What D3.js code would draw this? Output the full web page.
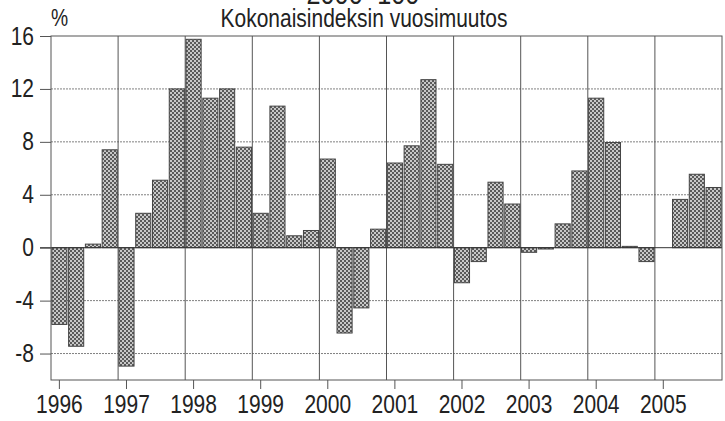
<!DOCTYPE html>
<html>
<head>
<meta charset="utf-8">
<script src="https://cdn.jsdelivr.net/npm/d3@7"></script>
<style>
  body { margin: 0; background: #fff; }
  svg text { font-family: "Liberation Sans Narrow", "Arial Narrow", "Liberation Sans", sans-serif; fill: #222; }
</style>
</head>
<body>
<div id="vis"></div>
<script>
// quarterly year-on-year change, %, 1996..2005
const years = [1996, 1997, 1998, 1999, 2000, 2001, 2002, 2003, 2004, 2005]
const quarters = ["Q1", "Q2", "Q3", "Q4"]
const values = [
  -5.8, -7.45, 0.27, 7.4,
  -8.95, 2.6, 5.1, 12.0,
  15.75, 11.3, 12.0, 7.6,
  2.6, 10.7, 0.9, 1.3,
  6.7, -6.45, -4.55, 1.4,
  6.4, 7.7, 12.7, 6.3,
  -2.65, -1.05, 4.95, 3.3,
  -0.35, -0.1, 1.8, 5.8,
  11.3, 7.95, 0.1, -1.05,
  null, 3.65, 5.55, 4.55
]
const yTicks = [-8, -4, 0, 4, 8, 12, 16]

const W = 725, H = 421
const margin = {top: 36, right: 3, bottom: 41, left: 51}
const narrow = 0.84   // squeeze text horizontally, no narrow font here

const data = []
years.forEach((y, i) => {
  quarters.forEach((q, j) => {
    data.push({key: y + q, year: y, q: j, value: values[i * 4 + j]})
  })
})

const svg = d3.select('#vis').append('svg')
  .attr('width', W)
  .attr('height', H)

// checker dither used for the bars
const defs = svg.append('defs')
const pat = defs.append('pattern')
  .attr('id', 'dither')
  .attr('patternUnits', 'userSpaceOnUse')
  .attr('width', 4).attr('height', 4)
pat.append('rect').attr('width', 4).attr('height', 4).attr('fill', '#c8c8c8')
pat.append('rect').attr('width', 2).attr('height', 2).attr('fill', '#5a5a5a')
pat.append('rect').attr('x', 2).attr('y', 2).attr('width', 2).attr('height', 2).attr('fill', '#5a5a5a')

const x = d3.scaleBand()
  .domain(data.map(d => d.key))
  .range([margin.left, W - margin.right])
  .paddingInner(0.1)
  .paddingOuter(0.05)

const y = d3.scaleLinear()
  .domain([-10, 16])
  .range([H - margin.bottom, margin.top])

const x0 = margin.left, x1 = W - margin.right
const step = (x1 - x0) / data.length

// horizontal grid
svg.append('g')
  .attr('class', 'y-grid')
  .selectAll('line')
  .data(yTicks.filter(d => d !== 0 && d !== 16))
  .join('line')
  .attr('x1', x0).attr('x2', x1)
  .attr('y1', d => y(d)).attr('y2', d => y(d))
  .attr('stroke', '#808080')
  .attr('stroke-width', 1)
  .attr('stroke-dasharray', '2,1')

// vertical year separators
svg.append('g')
  .attr('class', 'x-grid')
  .selectAll('line')
  .data(years.slice(1))
  .join('line')
  .attr('x1', (d, i) => x0 + (i + 1) * 4 * step)
  .attr('x2', (d, i) => x0 + (i + 1) * 4 * step)
  .attr('y1', y(16)).attr('y2', y(-10))
  .attr('stroke', '#555')
  .attr('stroke-width', 1)

// bars
svg.append('g')
  .selectAll('rect')
  .data(data.filter(d => d.value !== null))
  .join('rect')
  .attr('x', d => x(d.key))
  .attr('width', x.bandwidth())
  .attr('y', d => y(Math.max(0, d.value)))
  .attr('height', d => Math.max(1, Math.abs(y(d.value) - y(0))))
  .attr('fill', 'url(#dither)')
  .attr('stroke', '#444')
  .attr('stroke-width', 1)

// zero line
svg.append('line')
  .attr('x1', x0 - 11).attr('x2', x1)
  .attr('y1', y(0)).attr('y2', y(0))
  .attr('stroke', '#333')

// plot frame
svg.append('rect')
  .attr('x', x0).attr('y', y(16))
  .attr('width', x1 - x0).attr('height', y(-10) - y(16))
  .attr('fill', 'none')
  .attr('stroke', '#555')

// y axis
const yAxis = svg.append('g')
  .attr('transform', `translate(${x0},0)`)
  .call(d3.axisLeft(y).tickValues(yTicks).tickSize(11).tickPadding(6)
    .tickFormat(d => String(d)))
yAxis.select('.domain').remove()
yAxis.selectAll('line').attr('stroke', '#555')
yAxis.selectAll('text')
  .style('font-size', '25px')
  .attr('fill', '#222')
  .attr('x', -17 / narrow)
  .attr('transform', `scale(${narrow},1)`)

// x axis: year labels under first quarter
const xAxis = svg.append('g')
  .attr('transform', `translate(0,${y(-10)})`)
  .call(d3.axisBottom(x)
    .tickValues(years.map(yy => yy + 'Q1'))
    .tickFormat(k => k.slice(0, 4))
    .tickSize(9).tickPadding(6))
xAxis.select('.domain').remove()
xAxis.selectAll('line').attr('stroke', '#555')
xAxis.selectAll('text')
  .style('font-size', '25px')
  .attr('fill', '#222')
  .attr('transform', `scale(${narrow},1)`)

// titles
svg.append('text')
  .attr('x', 363 / narrow).attr('y', 4)
  .attr('text-anchor', 'middle')
  .attr('transform', `scale(${narrow},1)`)
  .style('font-size', '30px')
  .text('2000=100')

svg.append('text')
  .attr('x', 364 / narrow).attr('y', 27)
  .attr('text-anchor', 'middle')
  .attr('transform', `scale(${narrow},1)`)
  .style('font-size', '25px')
  .text('Kokonaisindeksin vuosimuutos')

svg.append('text')
  .attr('x', 51 / narrow).attr('y', 26)
  .attr('transform', `scale(${narrow},1)`)
  .style('font-size', '23px')
  .text('%')
</script>
</body>
</html>
